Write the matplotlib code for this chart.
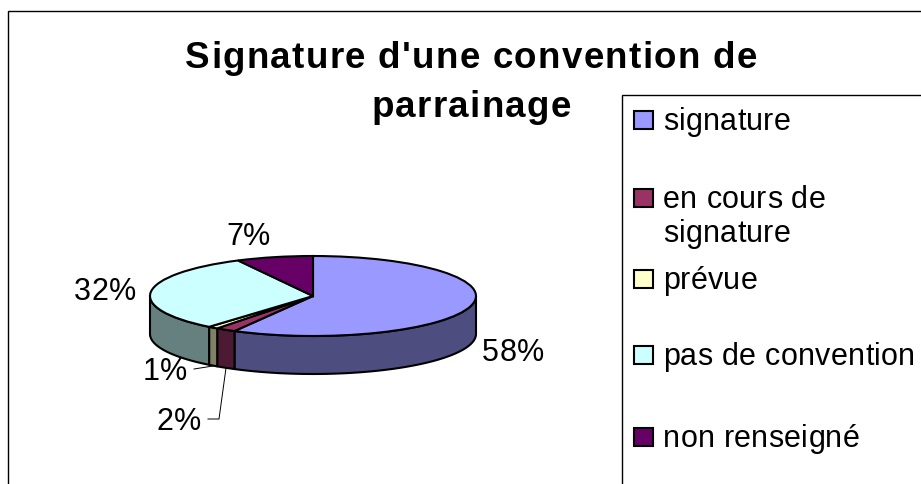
import numpy as np
import matplotlib
matplotlib.use("Agg")
import matplotlib.pyplot as plt
from matplotlib.patches import Rectangle

plt.rcParams['font.family'] = ['Liberation Sans', 'DejaVu Sans']

# donnees
categories = ["signature", "en cours de\nsignature", "prévue", "pas de convention", "non renseigné"]
values = [58, 2, 1, 31.4, 7.6]
pct_labels = ["58%", "2%", "1%", "32%", "7%"]
colors = ["#9999FF", "#993366", "#FFFFCC", "#CCFFFF", "#660066"]
side_colors = ["#4D4D80", "#4D1A33", "#808066", "#668080", "#330033"]
title = ["Signature d'une convention de", "parrainage"]

W, H = 921, 485
cx, cy, rx, ry = 313, 297, 163, 40
depth = 38 / ry

fig = plt.figure(figsize=(W / 100, H / 100), dpi=100)
ax = fig.add_axes([0, 0, 1, 1])
rend = fig.canvas.get_renderer()


def fx(px):
    return px / W


def fy(py):
    return 1 - py / H


def width(s, size, weight):
    t = fig.text(0, 0, s, fontsize=size, fontweight=weight)
    w = t.get_window_extent(rend).width
    t.remove()
    return w


# matplotlib n'a pas d'interlettrage : on pose les lettres une par une
def spaced(px, py, s, size, sp, weight="normal", ha="left"):
    total = width(s, size, weight) + sp * (len(s) - 1)
    x0 = px - total / 2 if ha == "center" else px
    for i, ch in enumerate(s):
        if ch == " ":
            continue
        off = width(s[:i + 1], size, weight) - width(ch, size, weight) + i * sp
        fig.text(fx(x0 + off), fy(py), ch, fontsize=size, fontweight=weight, ha="left", va="baseline")


# cadre du graphique et de la legende
fig.add_artist(Rectangle((fx(8), fy(H + 5)), 1.2, fy(12) - fy(H + 5), transform=fig.transFigure,
                         fc="white", ec="black", lw=1, zorder=-2))
fig.add_artist(Rectangle((fx(622), fy(H + 5)), 1.2, fy(96) - fy(H + 5), transform=fig.transFigure,
                         fc="white", ec="black", lw=1, zorder=-1))

# camembert : cercle unite ecrase par les limites des axes
ax.patch.set_alpha(0)
edges = np.cumsum([0] + values) / 100 * 2 * np.pi
for i in range(len(values)):
    a0, a1 = edges[i], edges[i + 1]
    lo, hi = max(a0, np.pi / 2), min(a1, 3 * np.pi / 2)
    if hi > lo:
        t = np.linspace(lo, hi, 80)
        x = np.sin(t)
        y = np.cos(t)
        ax.fill(np.r_[x, x[::-1]], np.r_[y, y[::-1] - depth], fc=side_colors[i], ec="black", lw=1.5,
                joinstyle="round", zorder=1)
ax.pie(values, colors=colors, startangle=90, counterclock=False, radius=1,
       wedgeprops=dict(edgecolor="black", linewidth=1.5, zorder=2))
ax.set_aspect("auto")
ax.set_xlim(-cx / rx, (W - cx) / rx)
ax.set_ylim((cy - H) / ry, cy / ry)

# titre
spaced(471, 68, title[0], 26.5, 1.3, "bold", "center")
spaced(471, 117, title[1], 26.5, 1.3, "bold", "center")

# etiquettes
pct_pos = [(482, 361), (157, 430), (143, 380), (74, 300), (226, 245)]
for s, (px, py) in zip(pct_labels, pct_pos):
    spaced(px, py, s, 22, 0.3)
fig.add_artist(plt.Line2D([fx(194), fx(213)], [fy(370), fy(367)], color="black", lw=0.7))
fig.add_artist(plt.Line2D([fx(208), fx(219), fx(226)], [fy(420), fy(420), fy(369)], color="black", lw=0.7))

# legende
leg_y = [121, 199, 280, 356, 438]
for c, lab, py in zip(colors, categories, leg_y):
    fig.add_artist(Rectangle((fx(634), fy(py + 9)), 19 / W, 18 / H, transform=fig.transFigure,
                             fc=c, ec="black", lw=1.5))
    for k, s in enumerate(lab.split("\n")):
        spaced(663, py + 9 + k * 34, s, 22, 0.3)

fig.savefig("out.png", dpi=100)
